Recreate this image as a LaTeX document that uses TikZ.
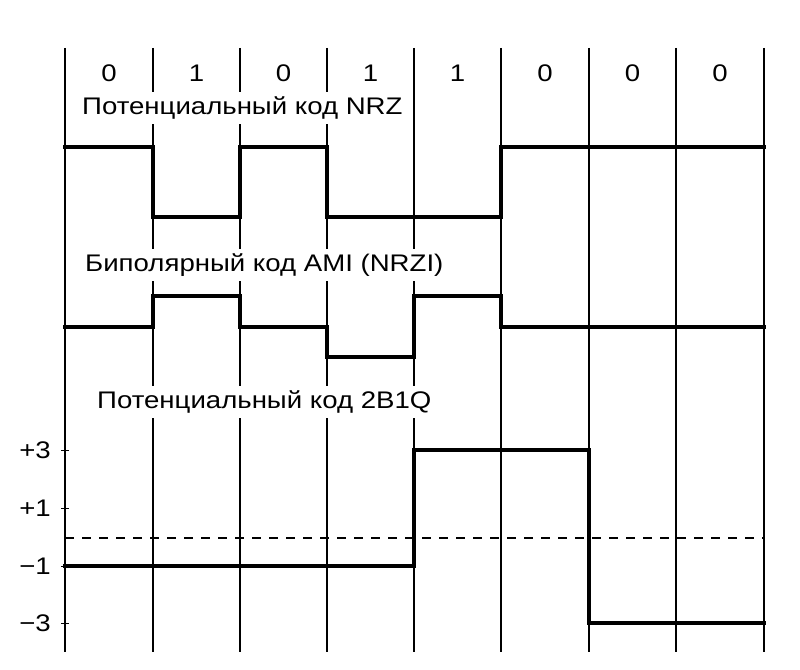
\documentclass[tikz,border=0pt]{standalone}
\usepackage{fontspec}
\setmainfont{Liberation Sans}
\newcommand{\wide}[1]{\scalebox{1.15}[1]{#1}}
\begin{document}
\begin{tikzpicture}[x=1pt,y=-1pt,
  gridline/.style={line width=1.3pt},
  sig/.style={line width=3.6pt, line join=miter, line cap=rect},
  txt/.style={font=\fontsize{24}{28}\selectfont},
  lbl/.style={txt, fill=white, inner xsep=2pt, inner ysep=5pt, anchor=west},
  tick/.style={line width=1pt},
  zeroline/.style={line width=1.8pt, dash pattern=on 9pt off 8pt}]
\useasboundingbox (0,0) rectangle (800,669);
% grid
\foreach \x in {65,153,240,327,414,501,589,676,764}
  \draw[gridline] (\x,48) -- (\x,652);
% bits
\foreach \x/\b [count=\i] in {109/0,196.5/1,283.5/0,370.5/1,457.5/1,545/0,632.5/0,720/0}
  \node[txt] (bit\i) at (\x,73) {\wide{\b}};
% labels
\node[lbl] (nrz) at (80,108) {\wide{Потенциальный код NRZ}};
\node[lbl] (ami) at (83,265) {\wide{Биполярный код AMI (NRZI)}};
\node[lbl] (q) at (95,402) {\wide{Потенциальный код 2B1Q}};
% level labels
\foreach \y/\t/\n in {450/+3/p3,508/+1/p1,566/−1/m1,623/−3/m3}{
  \node[txt, anchor=east, inner sep=0pt] (\n) at (51,\y) {\wide{\t}};
  \draw[tick] (61,\y) -- (69,\y);
}
% dashed zero
\coordinate (z0) at (65,538);
\coordinate (z1) at (764,538);
\draw[zeroline] (z0) -- (z1);
% NRZ
\draw[sig] (65,147) -- (153,147) -- (153,217) -- (240,217) -- (240,147) -- (327,147)
  -- (327,217) -- (501,217) -- (501,147) -- (764,147);
% AMI
\draw[sig] (65,327) -- (153,327) -- (153,296) -- (240,296) -- (240,327) -- (327,327)
  -- (327,357) -- (414,357) -- (414,296) -- (501,296) -- (501,327) -- (764,327);
% 2B1Q
\draw[sig] (65,566) -- (414,566) -- (414,450) -- (589,450) -- (589,623) -- (764,623);
\end{tikzpicture}
\end{document}
